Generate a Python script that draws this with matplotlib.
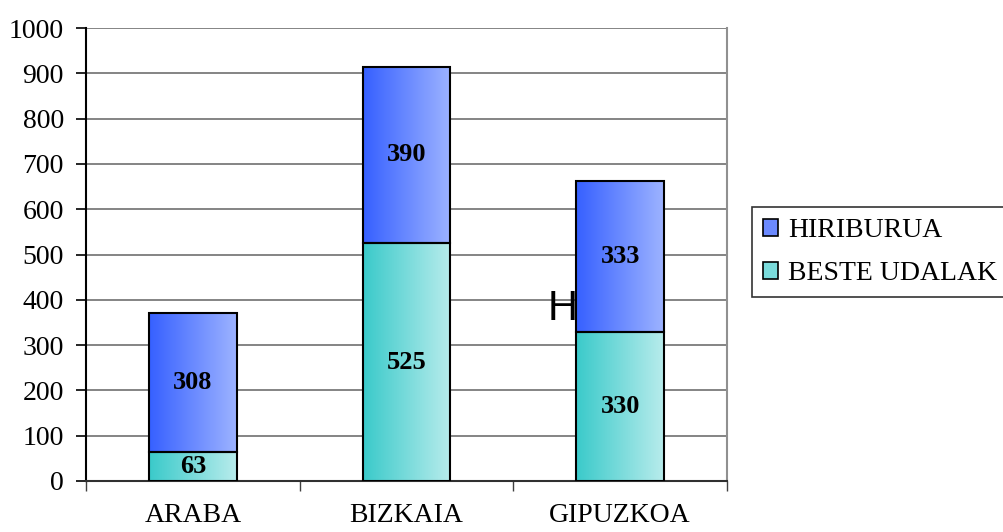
import numpy as np
import matplotlib
matplotlib.use("Agg")
import matplotlib.pyplot as plt
from matplotlib.colors import LinearSegmentedColormap
from matplotlib.patches import Patch

# datos
provincias = ["ARABA", "BIZKAIA", "GIPUZKOA"]
beste_udalak = [63, 525, 330]
hiriburua = [308, 390, 333]
series = ["HIRIBURUA", "BESTE UDALAK"]

plt.rcParams["font.family"] = ["Liberation Serif", "DejaVu Serif"]

azul = LinearSegmentedColormap.from_list("azul", ["#3660FF", "#9DB3FF"])
turq = LinearSegmentedColormap.from_list("turq", ["#3ACACA", "#B8ECEC"])

fig = plt.figure(figsize=(10.04, 5.32), dpi=100)
ax = fig.add_axes([86 / 1004, 1 - 481 / 532, 641 / 1004, 453 / 532])

x = np.arange(len(provincias))
ancho = 0.41
b1 = ax.bar(x, beste_udalak, width=ancho, facecolor="none",
            edgecolor="black", linewidth=1.5, zorder=4)
b2 = ax.bar(x, hiriburua, width=ancho, bottom=beste_udalak, facecolor="none",
            edgecolor="black", linewidth=1.5, zorder=4)

# relleno degradado horizontal
grad = np.linspace(0, 1, 256).reshape(1, -1)
for barras, cmap in [(b1, turq), (b2, azul)]:
    for r in barras:
        x0, y0 = r.get_x(), r.get_y()
        ax.imshow(grad, cmap=cmap, aspect="auto", zorder=3,
                  extent=[x0, x0 + r.get_width(), y0, y0 + r.get_height()])

# etiquetas de valores
for i in range(len(provincias)):
    ax.text(x[i], beste_udalak[i] / 2, str(beste_udalak[i]), ha="center",
            va="center", fontsize=19, fontweight="bold", zorder=5)
    ax.text(x[i], beste_udalak[i] + hiriburua[i] / 2, str(hiriburua[i]),
            ha="center", va="center", fontsize=19, fontweight="bold", zorder=5)

ax.set_xlim(-0.5, 2.5)
ax.set_ylim(0, 1000)
ax.set_yticks(np.arange(0, 1001, 100))
ax.yaxis.grid(True, color="#707070", linewidth=1.2)
ax.set_axisbelow(True)

ax.set_xticks(x)
ax.set_xticklabels(provincias)
ax.set_xticks([-0.5, 0.5, 1.5, 2.5], minor=True)
ax.tick_params(axis="x", which="major", length=0, pad=16, labelsize=20)
ax.tick_params(axis="x", which="minor", length=7, width=1, direction="out",
               color="#404040")
ax.tick_params(axis="y", length=7, width=1.2, direction="out", pad=9,
               labelsize=20)

ax.spines["top"].set_visible(False)
ax.spines["right"].set_color("#909090")
ax.spines["right"].set_linewidth(1.5)
ax.spines["left"].set_linewidth(1.5)
ax.spines["bottom"].set_linewidth(1.5)
ax.spines["bottom"].set_color("#303030")

handles = [Patch(facecolor="#6C8AFF", edgecolor="black", linewidth=1.2),
           Patch(facecolor="#7ADBDB", edgecolor="black", linewidth=1.2)]
leg = fig.legend(handles, series, loc="upper left",
                 bbox_to_anchor=(752 / 1004, 1 - 207 / 532), fontsize=20,
                 frameon=True, fancybox=False, edgecolor="black",
                 handlelength=0.55, handleheight=0.55, handletextpad=0.35,
                 borderpad=0.4, labelspacing=0.65, borderaxespad=0)
leg.get_frame().set_linewidth(1.2)

# la "H" suelta del original
fig.text(548 / 1004, 1 - 320 / 532, "H", family="Liberation Sans",
         fontsize=30, va="baseline", ha="left")

fig.savefig("out.png", dpi=100)
